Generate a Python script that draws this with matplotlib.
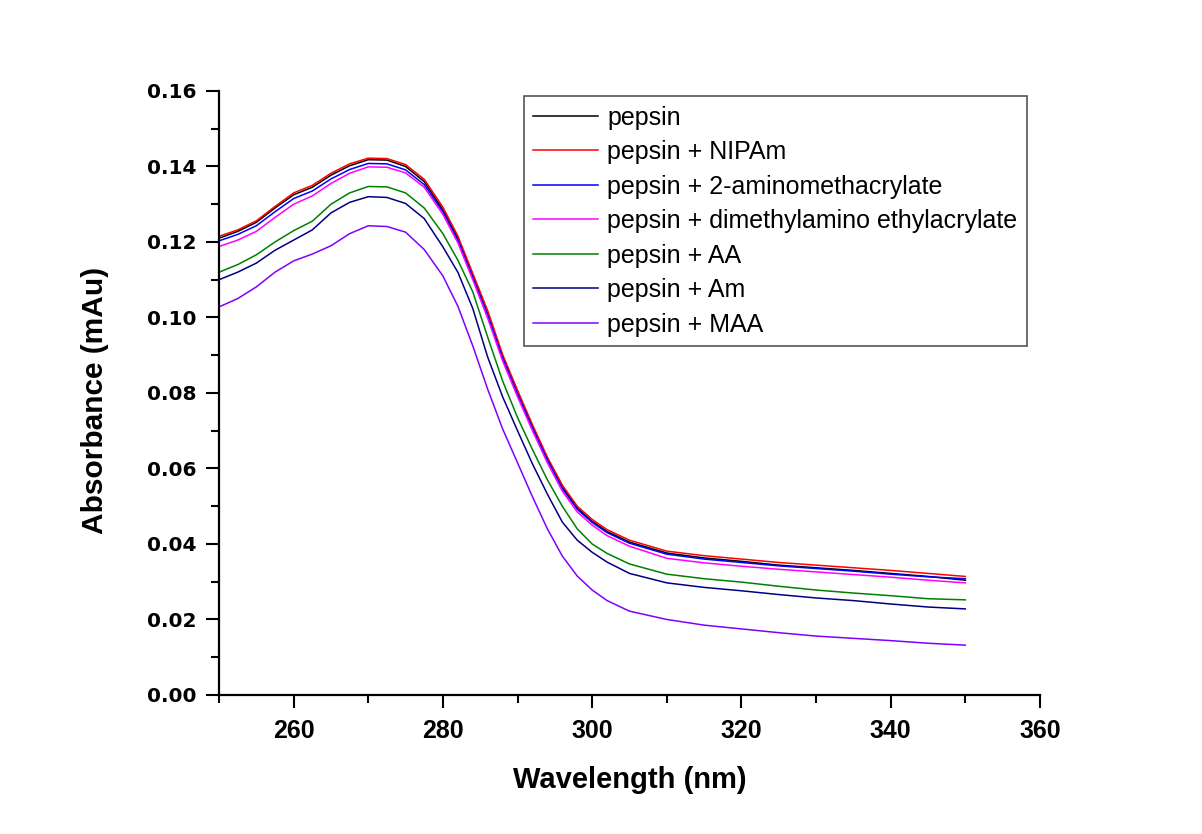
import matplotlib
matplotlib.use("Agg")
import matplotlib.pyplot as plt
from matplotlib.ticker import MultipleLocator

# wavelength grid (nm)
wl = [250, 252.5, 255, 257.5, 260, 262.5, 265, 267.5, 270, 272.5, 275, 277.5,
      280, 282, 284, 286, 288, 290, 292, 294, 296, 298, 300, 302, 305,
      310, 315, 320, 325, 330, 335, 340, 345, 350]

pepsin = [0.1210, 0.1228, 0.1252, 0.1290, 0.1325, 0.1345, 0.1377, 0.1402, 0.1418, 0.1417, 0.1400, 0.1360,
          0.1285, 0.1210, 0.1110, 0.1010, 0.0895, 0.0800, 0.0710, 0.0625, 0.0550, 0.0495, 0.0460, 0.0433, 0.0405,
          0.0376, 0.0363, 0.0354, 0.0344, 0.0337, 0.0330, 0.0322, 0.0314, 0.0304]
nipam = [0.1215, 0.1232, 0.1256, 0.1294, 0.1330, 0.1350, 0.1382, 0.1407, 0.1422, 0.1421, 0.1405, 0.1366,
         0.1292, 0.1216, 0.1117, 0.1018, 0.0902, 0.0807, 0.0716, 0.0630, 0.0556, 0.0500, 0.0465, 0.0438, 0.0410,
         0.0381, 0.0369, 0.0360, 0.0351, 0.0344, 0.0337, 0.0330, 0.0322, 0.0314]
amino = [0.1203, 0.1220, 0.1243, 0.1280, 0.1315, 0.1335, 0.1367, 0.1392, 0.1408, 0.1407, 0.1391, 0.1352,
         0.1280, 0.1205, 0.1106, 0.1006, 0.0892, 0.0797, 0.0707, 0.0622, 0.0547, 0.0492, 0.0457, 0.0430, 0.0402,
         0.0373, 0.0360, 0.0351, 0.0342, 0.0335, 0.0328, 0.0320, 0.0313, 0.0308]
dmaea = [0.1188, 0.1205, 0.1228, 0.1265, 0.1300, 0.1322, 0.1355, 0.1382, 0.1399, 0.1398, 0.1383, 0.1345,
         0.1273, 0.1198, 0.1100, 0.0998, 0.0885, 0.0790, 0.0700, 0.0615, 0.0540, 0.0485, 0.0450, 0.0422, 0.0394,
         0.0362, 0.0350, 0.0341, 0.0333, 0.0326, 0.0319, 0.0312, 0.0304, 0.0297]
aa = [0.1120, 0.1140, 0.1166, 0.1200, 0.1230, 0.1255, 0.1300, 0.1330, 0.1347, 0.1346, 0.1330, 0.1290,
      0.1222, 0.1152, 0.1068, 0.0948, 0.0832, 0.0735, 0.0650, 0.0570, 0.0500, 0.0440, 0.0400, 0.0375, 0.0347,
      0.0320, 0.0308, 0.0299, 0.0288, 0.0278, 0.0270, 0.0263, 0.0255, 0.0252]
am = [0.1100, 0.1120, 0.1144, 0.1178, 0.1205, 0.1232, 0.1277, 0.1305, 0.1320, 0.1318, 0.1302, 0.1262,
      0.1187, 0.1120, 0.1024, 0.0895, 0.0790, 0.0700, 0.0612, 0.0532, 0.0458, 0.0410, 0.0378, 0.0352, 0.0322,
      0.0297, 0.0285, 0.0276, 0.0266, 0.0257, 0.0250, 0.0241, 0.0233, 0.0228]
maa = [0.1028, 0.1050, 0.1081, 0.1120, 0.1150, 0.1168, 0.1190, 0.1222, 0.1243, 0.1241, 0.1226, 0.1180,
       0.1110, 0.1030, 0.0925, 0.0810, 0.0705, 0.0615, 0.0525, 0.0440, 0.0368, 0.0315, 0.0278, 0.0250, 0.0222,
       0.0200, 0.0185, 0.0175, 0.0165, 0.0156, 0.0150, 0.0144, 0.0137, 0.0132]

labels = ['pepsin', 'pepsin + NIPAm', 'pepsin + 2-aminomethacrylate',
          'pepsin + dimethylamino ethylacrylate', 'pepsin + AA', 'pepsin + Am', 'pepsin + MAA']
series = [pepsin, nipam, amino, dmaea, aa, am, maa]
colors = ['black', '#ff0000', '#0000ff', '#ff00ff', '#008000', '#000080', '#8000ff']

fig = plt.figure(figsize=(12.02, 8.34), dpi=100)
ax = fig.add_axes([0.1822, 0.1667, 0.6830, 0.7242])

for y, lab, c in zip(series, labels, colors):
    ax.plot(wl, y, color=c, lw=1.1, label=lab)

ax.set_xlim(250, 360)
ax.set_ylim(0, 0.16)
ax.xaxis.set_minor_locator(MultipleLocator(10))
ax.yaxis.set_minor_locator(MultipleLocator(0.01))
ax.set_xticks(range(260, 361, 20))

for s in ['top', 'right']:
    ax.spines[s].set_visible(False)
for s in ['left', 'bottom']:
    ax.spines[s].set_linewidth(1.6)

ax.tick_params(which='major', direction='out', length=9.5, width=1.5)
ax.tick_params(which='minor', direction='out', length=5.5, width=1.5)
ax.tick_params(axis='x', which='major', pad=8)
ax.tick_params(axis='y', which='major', pad=6.5)

yt = [i * 0.02 for i in range(9)]
ax.set_yticks(yt)
ax.set_yticklabels([f'{v:.2f}' for v in yt],
                   fontfamily='DejaVu Sans', fontweight='bold', fontsize=14.5)
ax.set_xticklabels([str(v) for v in range(260, 361, 20)],
                   fontfamily='Liberation Sans', fontweight='bold', fontsize=18)

ax.set_xlabel('Wavelength (nm)', fontfamily='Liberation Sans', fontweight='bold', fontsize=21)
ax.set_ylabel('Absorbance (mAu)', fontfamily='Liberation Sans', fontweight='bold', fontsize=21.5)
ax.xaxis.set_label_coords(0.5, -0.1175)
ax.yaxis.set_label_coords(-0.134, 0.487)

leg = ax.legend(loc='upper left', bbox_to_anchor=(0.3715, 0.9917), borderaxespad=0,
                prop={'family': 'Liberation Sans', 'size': 18}, handlelength=2.6,
                labelspacing=0.42, fancybox=False, edgecolor='#555555', framealpha=1,
                borderpad=0.38, handletextpad=0.35)
leg.get_frame().set_linewidth(1.2)

fig.savefig('out.png', dpi=100, facecolor='white')
